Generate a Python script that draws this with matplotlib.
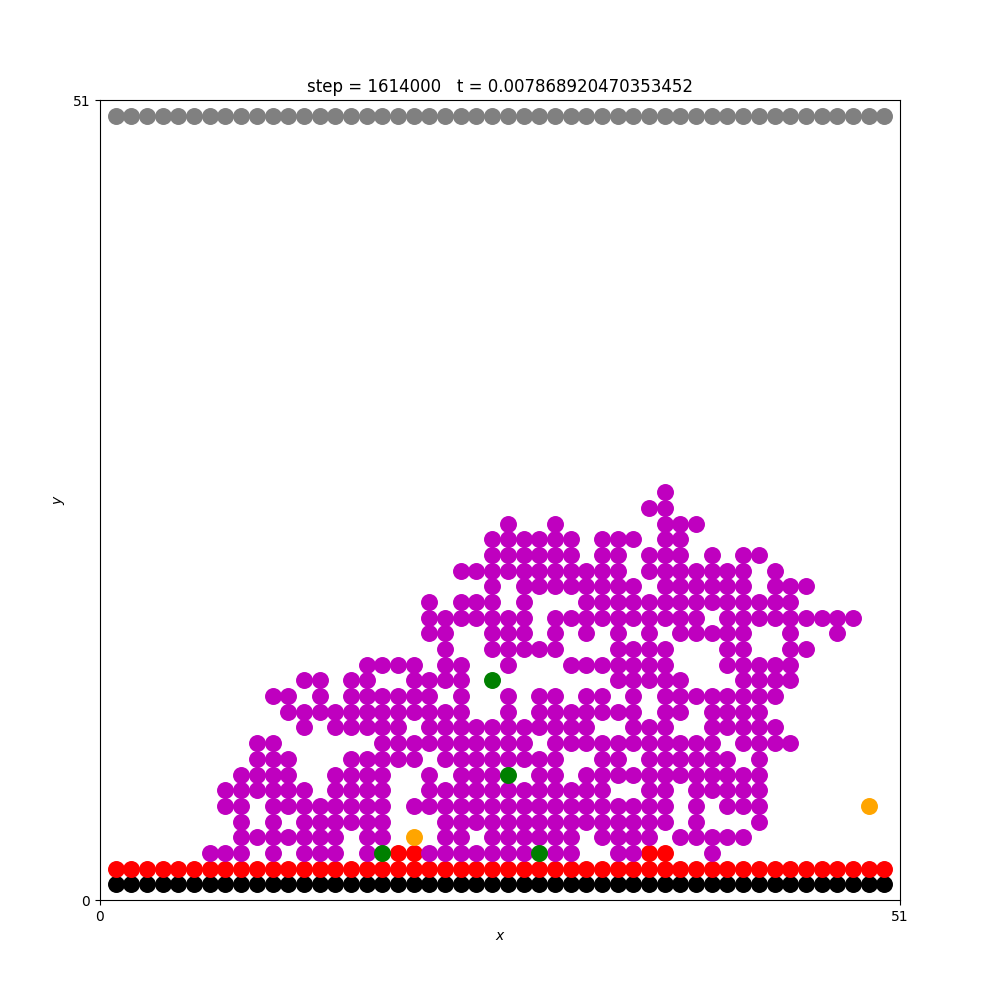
import matplotlib
matplotlib.use("Agg")
import matplotlib.pyplot as plt

# grid size and header
L = 51
step = 1614000
t = 0.007868920470353452

# magenta particles, row -> columns
mag_rows = {
    26: [36],
    25: [35, 36],
    24: [26, 29, 36, 37, 38],
    23: [25, 26, 27, 28, 29, 30, 32, 33, 34, 36, 37],
    22: [25, 26, 27, 28, 29, 30, 32, 33, 35, 36, 37, 39, 41, 42],
    21: [23, 24, 25, 26, 27, 28, 29, 30, 31, 32, 33, 35, 36, 37, 38, 39, 40, 41, 43],
    20: [25, 27, 28, 29, 30, 31, 32, 33, 34, 36, 37, 38, 39, 40, 41, 43, 44, 45],
    19: [21, 23, 24, 25, 27, 31, 32, 33, 34, 35, 36, 37, 38, 39, 40, 41, 42, 43, 44],
    18: [21, 22, 23, 24, 25, 26, 27, 29, 30, 31, 32, 33, 34, 35, 36, 37, 38, 40, 41, 42,
         43, 44, 45, 46, 47, 48],
    17: [21, 22, 25, 26, 27, 29, 31, 33, 35, 37, 38, 39, 40, 41, 44, 47],
    16: [22, 25, 26, 27, 28, 29, 33, 34, 35, 36, 40, 41, 44, 45],
    15: [17, 18, 19, 20, 22, 23, 26, 30, 31, 32, 33, 34, 35, 36, 40, 41, 42, 43, 44],
    14: [13, 14, 16, 17, 20, 21, 22, 23, 33, 34, 35, 36, 37, 41, 42, 43, 44],
    13: [11, 12, 14, 16, 17, 18, 19, 20, 21, 23, 26, 28, 29, 31, 32, 34, 36, 37, 38, 39,
         40, 41, 42, 43],
    12: [12, 13, 14, 15, 16, 17, 18, 19, 20, 21, 22, 23, 26, 28, 29, 30, 31, 32, 33, 34,
         36, 37, 39, 40, 41, 42],
    11: [13, 15, 16, 17, 18, 19, 21, 22, 23, 24, 25, 26, 27, 28, 29, 30, 31, 34, 35, 36,
         39, 40, 41, 42, 43],
    10: [10, 11, 18, 19, 20, 21, 22, 23, 24, 25, 26, 27, 29, 30, 31, 32, 33, 34, 35, 36,
         37, 38, 39, 41, 42, 43, 44],
    9: [10, 11, 12, 16, 17, 18, 19, 20, 22, 23, 24, 25, 26, 27, 28, 29, 32, 33, 35, 36,
        37, 38, 39, 40, 42],
    8: [9, 10, 11, 12, 15, 16, 17, 18, 21, 23, 24, 25, 28, 29, 31, 32, 33, 34, 35, 36,
        37, 38, 39, 40, 41, 42],
    7: [8, 9, 10, 11, 12, 13, 15, 16, 17, 18, 21, 22, 23, 24, 25, 26, 27, 28, 29, 30,
        31, 32, 35, 36, 38, 39, 40, 41, 42],
    6: [8, 9, 11, 12, 13, 14, 15, 16, 17, 18, 20, 21, 22, 23, 24, 25, 26, 27, 28, 29,
        30, 31, 32, 33, 34, 35, 36, 38, 40, 41, 42],
    5: [9, 11, 13, 14, 15, 16, 17, 18, 22, 23, 24, 25, 26, 27, 28, 29, 30, 31, 32, 33,
        34, 35, 36, 38, 42],
    4: [9, 10, 11, 12, 13, 14, 15, 17, 18, 22, 23, 25, 26, 27, 28, 29, 30, 32, 33, 34,
        35, 37, 38, 39, 40, 41],
    3: [7, 8, 9, 11, 13, 14, 15, 17, 21, 22, 23, 24, 25, 26, 27, 29, 30, 33, 34, 39],
}

# other species (x, y)
green_x = [25, 26, 18, 28]
green_y = [14, 8, 3, 3]
orange_x = [20, 49]
orange_y = [4, 6]
red_extra_x = [19, 20, 35, 36]
red_extra_y = [3, 3, 3, 3]

# full wall rows
cols = list(range(1, 51))
black_row = 1
red_row = 2
gray_row = 50

fig = plt.figure(figsize=(10, 10), dpi=100)
ax = fig.add_axes([0.1, 0.1, 0.8, 0.8])

s = 125
ax.scatter(cols, [black_row] * len(cols), s=s, c='k')
ax.scatter(cols, [red_row] * len(cols), s=s, c='r')
ax.scatter(cols, [gray_row] * len(cols), s=s, c='gray')
ax.scatter(red_extra_x, red_extra_y, s=s, c='r')

mx, my = [], []
for row, cs in mag_rows.items():
    mx += cs
    my += [row] * len(cs)
ax.scatter(mx, my, s=s, c='m')
ax.scatter(green_x, green_y, s=s, c='g')
ax.scatter(orange_x, orange_y, s=s, c='orange')

ax.set_xlim(0, L)
ax.set_ylim(0, L)
ax.set_xticks([0, L])
ax.set_yticks([0, L])
ax.set_xlabel('$x$')
ax.set_ylabel('$y$')
ax.set_title(f'step = {step}   t = {t}')

fig.savefig('out.png', dpi=100)
